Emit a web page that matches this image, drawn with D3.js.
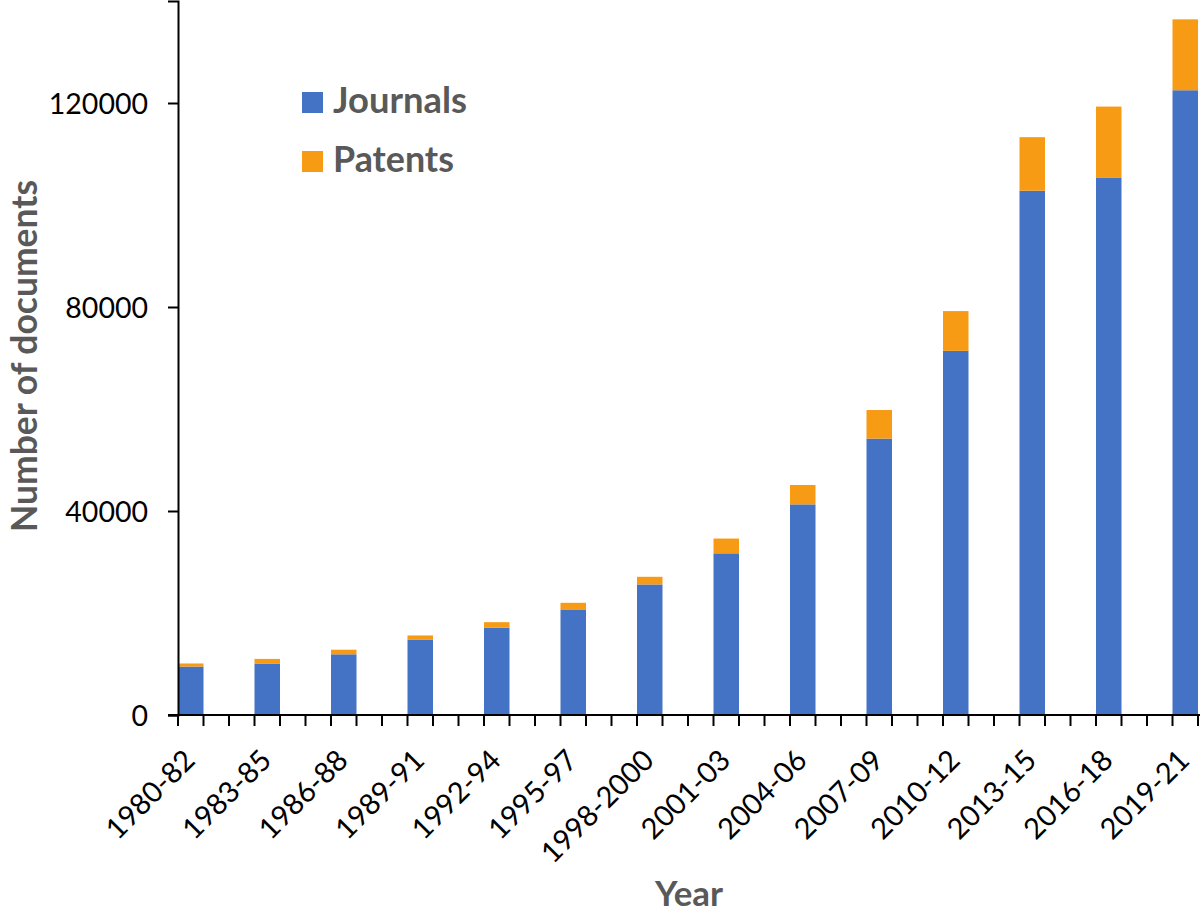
<!DOCTYPE html>
<html>
<head>
<meta charset="utf-8">
<script src="https://cdn.jsdelivr.net/npm/d3@7"></script>
<style>
  html, body { margin: 0; padding: 0; background: #fff; }
  svg { display: block; }
</style>
</head>
<body>
<script>
const categories = ["1980-82","1983-85","1986-88","1989-91","1992-94","1995-97","1998-2000","2001-03","2004-06","2007-09","2010-12","2013-15","2016-18","2019-21"];
const journals = [9500, 10100, 11900, 14800, 17100, 20700, 25600, 31700, 41300, 54200, 71400, 102800, 105400, 122500];
const patents  = [600, 900, 900, 800, 1100, 1300, 1500, 2900, 3800, 5600, 7800, 10500, 13900, 13900];
const yTicks = [0, 40000, 80000, 120000];
const seriesNames = ["Journals", "Patents"];
const colors = ["#4472C4", "#F89B14"];

const W = 1200, H = 916;
const x0 = 178, baseY = 715, step = 76.5;
const svg = d3.select("body").append("svg").attr("width", W).attr("height", H);

const x = d3.scaleBand().domain(categories).range([x0, x0 + step * categories.length]).padding(0);
const y = d3.scaleLinear().domain([0, 140000]).range([baseY, 1]);
const bw = x.bandwidth() / 3;

const data = categories.map((c, i) => ({cat: c, Journals: journals[i], Patents: patents[i]}));
const stacked = d3.stack().keys(seriesNames)(data);

svg.append("g").selectAll("g").data(stacked).join("g")
  .attr("fill", (d, i) => colors[i])
  .selectAll("rect").data(d => d).join("rect")
  .attr("x", d => x(d.data.cat))
  .attr("width", bw)
  .attr("y", d => y(d[1]))
  .attr("height", d => y(d[0]) - y(d[1]));

// Y axis
const yAxis = d3.axisLeft(y).tickValues(yTicks).tickSize(10).tickPadding(20).tickFormat(d3.format("d"));
const gy = svg.append("g").attr("transform", `translate(${x0},0)`).call(yAxis);
gy.select(".domain").attr("stroke", "#000").attr("stroke-width", 2);
gy.selectAll(".tick line").attr("stroke", "#000").attr("stroke-width", 2);
gy.selectAll(".tick text").attr("font-family", "Lato, sans-serif").attr("font-size", 28.5).attr("fill", "#000").attr("dy", "0.36em");

// X axis line
svg.append("line").attr("x1", x0 - 10).attr("x2", W).attr("y1", baseY).attr("y2", baseY)
  .attr("stroke", "#000").attr("stroke-width", 2);

// X ticks: three per category
const tickXs = [];
categories.forEach(c => { for (let k = 0; k < 3; k++) tickXs.push(x(c) + k * bw); });
tickXs.push(x0 + step * categories.length);
svg.append("g").selectAll("line").data(tickXs).join("line")
  .attr("x1", d => d).attr("x2", d => d)
  .attr("y1", baseY).attr("y2", baseY + 11)
  .attr("stroke", "#000").attr("stroke-width", 2);

// X labels
svg.append("g").selectAll("text").data(categories).join("text")
  .attr("transform", d => `translate(${x(d) + bw / 2 + 6},762) rotate(-45)`)
  .attr("text-anchor", "end")
  .attr("font-family", "Lato, sans-serif").attr("font-size", 29).attr("fill", "#000")
  .text(d => d);

function fit(sel, target) {
  const len = sel.node().getComputedTextLength();
  const fs = parseFloat(sel.attr("font-size"));
  sel.attr("font-size", fs * target / len);
}

// Y title
const yt = svg.append("text")
  .attr("transform", "translate(37,356) rotate(-90)")
  .attr("text-anchor", "middle")
  .attr("font-family", "Lato, sans-serif").attr("font-weight", "bold")
  .attr("font-size", 34).attr("fill", "#595959")
  .text("Number of documents");
fit(yt, 352);

// X title
const xt = svg.append("text")
  .attr("x", 689).attr("y", 906)
  .attr("text-anchor", "middle")
  .attr("font-family", "Lato, sans-serif").attr("font-weight", "bold")
  .attr("font-size", 34).attr("fill", "#595959")
  .text("Year");
fit(xt, 68);

// Legend
const legY = [113, 172];
const legW = [134, 121];
seriesNames.forEach((s, i) => {
  svg.append("rect").attr("x", 302).attr("y", legY[i] - 21).attr("width", 21).attr("height", 21).attr("fill", colors[i]);
  const t = svg.append("text").attr("x", 333).attr("y", legY[i])
    .attr("font-family", "Lato, sans-serif").attr("font-weight", "bold")
    .attr("font-size", 34).attr("fill", "#595959").text(s);
  fit(t, legW[i]);
});
</script>
</body>
</html>
